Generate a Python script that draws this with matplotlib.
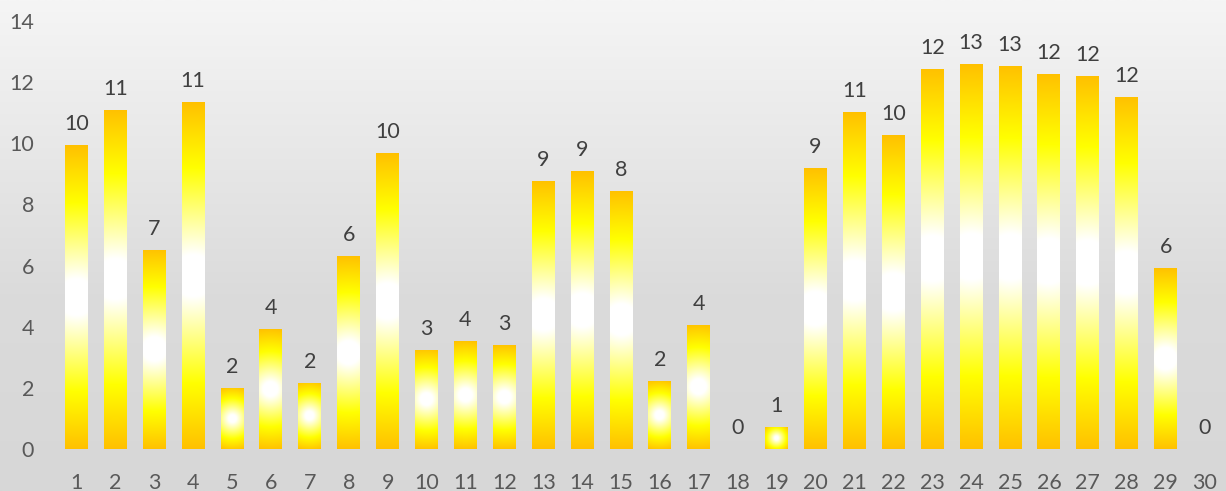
import numpy as np
import matplotlib
matplotlib.use("Agg")
import matplotlib.pyplot as plt
from matplotlib.colors import to_rgb

# --- data ---
days = list(range(1, 31))
values = [9.94, 11.09, 6.52, 11.35, 1.98, 3.91, 2.16, 6.31, 9.68, 3.24,
          3.52, 3.40, 8.77, 9.09, 8.44, 2.22, 4.06, 0.0, 0.71, 9.19,
          11.02, 10.27, 12.43, 12.59, 12.53, 12.27, 12.20, 11.52, 5.92, 0.0]
yticks = list(range(0, 15, 2))

plt.rcParams["font.family"] = ["Lato", "DejaVu Sans"]

W, H = 1226, 491
fig = plt.figure(figsize=(W / 100, H / 100), dpi=100)

# background: light grey vertical gradient
bg = fig.add_axes([0, 0, 1, 1], zorder=0)
yy = np.linspace(0, 1, 256)  # 0 = top
shade = np.interp(yy, [0, 0.6, 1.0], [245, 219, 215]) / 255
bg.imshow(np.repeat(shade[:, None, None], 3, axis=2) * np.ones((1, 2, 1)),
          aspect="auto", extent=[0, 1, 0, 1])
bg.axis("off")

ax = fig.add_axes([57 / W, 42 / H, (1224 - 57) / W, 428 / H], zorder=1)
ax.patch.set_alpha(0)
ax.set_xlim(0.5, 30.5)
ax.set_ylim(0, 14)

bars = ax.bar(days, values, width=0.59, color="none", edgecolor="none")

# radial gradient fill: white centre -> yellow -> orange edge
px_x = ax.bbox.width / 30.0
px_y = ax.bbox.height / 14.0
stops = [0.0, 0.12, 0.62, 1.0]
cols = [to_rgb("#FFFFFF"), to_rgb("#FFFFFF"), to_rgb("#FFFF00"), to_rgb("#FFC000")]
cols = np.array(cols)

for rect in bars:
    h = rect.get_height()
    if h <= 0:
        continue
    x0, w = rect.get_x(), rect.get_width()
    wpx, hpx = w * px_x, h * px_y
    nx, ny = max(int(wpx), 2), max(int(hpx), 2)
    gx = (np.arange(nx) + 0.5) / nx - 0.5
    gy = (np.arange(ny) + 0.5) / ny - 0.5
    dx, dy = np.meshgrid(gx * wpx, gy * hpx)
    r = 0.5 * np.hypot(wpx, hpx)
    d = np.clip(np.hypot(dx, dy) / r, 0, 1)
    img = np.stack([np.interp(d, stops, cols[:, c]) for c in range(3)], axis=2)
    im = ax.imshow(img, extent=(x0, x0 + w, 0, h), aspect="auto",
                   interpolation="bilinear", zorder=2)
    im.set_clip_path(rect)

ax.set_xlim(0.5, 30.5)
ax.set_ylim(0, 14)

for x, v in zip(days, values):
    ax.annotate(f"{v:.0f}", (x, v), xytext=(0, 8), textcoords="offset points",
                ha="center", va="bottom", fontsize=15.5, color="#404040")

ax.set_xticks(days)
ax.set_xticklabels([str(d) for d in days])
ax.set_yticks(yticks)
ax.tick_params(axis="both", length=0, labelsize=15.5, labelcolor="#595959")
ax.tick_params(axis="y", pad=16.5)
ax.tick_params(axis="x", pad=17)
for s in ax.spines.values():
    s.set_visible(False)

fig.savefig("out.png", dpi=100)
